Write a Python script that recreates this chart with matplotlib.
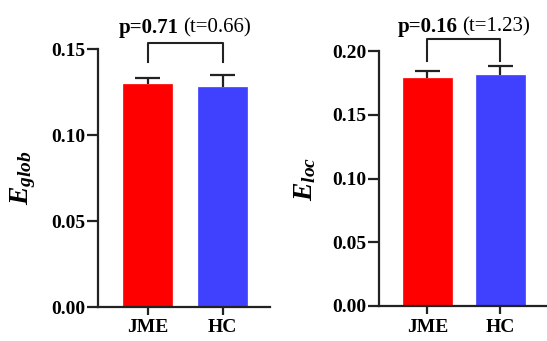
import matplotlib
matplotlib.use("Agg")
import matplotlib.pyplot as plt
from matplotlib.offsetbox import TextArea, HPacker, AnnotationBbox

plt.rcParams['font.family'] = ['Liberation Serif', 'DejaVu Serif']
plt.rcParams['mathtext.fontset'] = 'custom'
plt.rcParams['mathtext.it'] = 'Liberation Serif:bold:italic'
plt.rcParams['mathtext.rm'] = 'Liberation Serif:bold'
plt.rcParams['mathtext.bf'] = 'Liberation Serif:bold'

groups = ["JME", "HC"]
colors = ["#FF0000", "#4040FF"]

eglob_mean = [0.1297, 0.1279]
eglob_err = [0.0034, 0.0070]
eloc_mean = [0.1788, 0.1812]
eloc_err = [0.0055, 0.0070]

panels = [
    dict(mean=eglob_mean, err=eglob_err, ylabel=r'$E_{glob}$', ylim=(0, 0.15),
         yticks=[0.00, 0.05, 0.10, 0.15], ticklabels=["0.00", "0.05", "0.10", "0.15"],
         pos=[98/547, 34/341, 172/547, 258/341], xlim=(-0.66, 1.633), width=0.65,
         bracket=(0.1535, 0.1424), text_y=0.1565, p="p=0.71", t="(t=0.66)", labx=-0.35),
    dict(mean=eloc_mean, err=eloc_err, ylabel=r'$E_{loc}$', ylim=(0, 0.20),
         yticks=[0.00, 0.05, 0.10, 0.15, 0.20], ticklabels=["0.00", "0.05", "0.10", "0.15", "0.20"],
         pos=[379/547, 35/341, 168/547, 255/341], xlim=(-0.664, 1.637), width=0.67,
         bracket=(0.2094, 0.192), text_y=0.2112, p="p=0.16", t="(t=1.23)", labx=-0.36),
]

fig = plt.figure(figsize=(5.47, 3.41), dpi=100)

for P in panels:
    ax = fig.add_axes(P['pos'])
    x = list(range(len(groups)))
    ax.bar(x, P['mean'], width=P['width'], color=colors, edgecolor=colors, linewidth=0.5, zorder=2)
    tops = [m + e for m, e in zip(P['mean'], P['err'])]
    ax.vlines(x, P['mean'], tops, color='#222222', lw=1.6, zorder=3)
    ax.hlines(tops, [xi - 0.165 for xi in x], [xi + 0.165 for xi in x], color='#222222', lw=1.6, zorder=3)
    ax.set_xlim(*P['xlim'])
    ax.set_ylim(*P['ylim'])
    ax.set_xticks(x)
    ax.set_xticklabels(groups, fontsize=14, fontweight='bold')
    ax.set_yticks(P['yticks'])
    ax.set_yticklabels(P['ticklabels'], fontsize=14, fontweight='bold')
    for s in ['top', 'right']:
        ax.spines[s].set_visible(False)
    for s in ['left', 'bottom']:
        ax.spines[s].set_linewidth(1.6)
        ax.spines[s].set_color('#222222')
    ax.tick_params(axis='both', width=1.6, color='#222222')
    ax.tick_params(axis='y', length=8, pad=1)
    ax.tick_params(axis='x', length=6, pad=3)
    ax.set_ylabel(P['ylabel'], fontsize=20)
    ax.yaxis.set_label_coords(P['labx'], 0.5)
    top, leg = P['bracket']
    ax.plot([0, 0, 1, 1], [leg, top, top, leg], color='#222222', lw=1.5, clip_on=False)
    ta1 = TextArea(P['p'], textprops=dict(fontsize=15, fontweight='bold'))
    ta2 = TextArea(P['t'], textprops=dict(fontsize=15))
    box = HPacker(children=[ta1, ta2], sep=3, pad=0, align='baseline')
    ab = AnnotationBbox(box, (0.5, P['text_y']), xycoords='data', box_alignment=(0.5, 0),
                        frameon=False, pad=0, annotation_clip=False)
    ax.add_artist(ab)

fig.savefig("out.png", dpi=100)
